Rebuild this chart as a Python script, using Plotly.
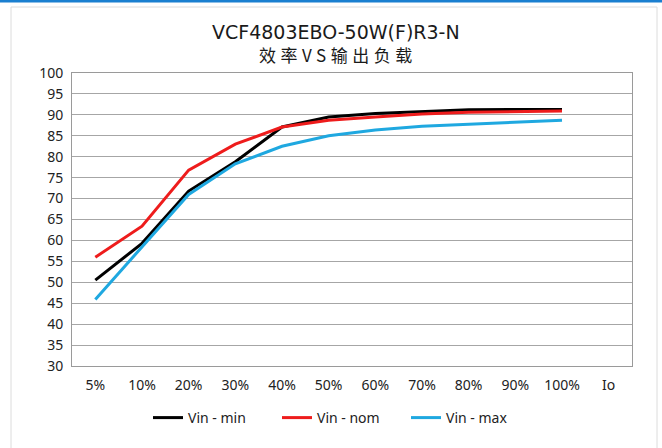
import plotly.graph_objects as go

categories = ["5%", "10%", "20%", "30%", "40%", "50%", "60%", "70%", "80%", "90%", "100%", "Io"]
vin_min = [50.5, 59.3, 71.8, 78.8, 87.1, 89.5, 90.3, 90.8, 91.2, 91.3, 91.3]
vin_nom = [56.0, 63.4, 76.8, 83.0, 87.1, 88.7, 89.5, 90.2, 90.6, 90.7, 90.9]
vin_max = [45.9, 58.4, 71.0, 78.3, 82.5, 85.0, 86.4, 87.3, 87.8, 88.2, 88.7]
series_names = ["Vin - min", "Vin - nom", "Vin - max"]
series_colors = ["#000000", "#ee1c1c", "#1fa8e0"]
title_lines = ["VCF4803EBO-50W(F)R3-N", "效率VS输出负载"]

font_tick = "Noto Sans, sans-serif"
font_title = "DejaVu Sans, sans-serif"
font_cjk = "Noto Sans CJK SC, sans-serif"

W, H = 662, 448
L, R, T, B = 72, 30, 73, 82
PW, PH = W - L - R, H - T - B

def px_x(x):
    return (x - L) / PW

def px_y(y):
    return (T + PH - y) / PH

fig = go.Figure()
for name, vals, col in zip(series_names, [vin_min, vin_nom, vin_max], series_colors):
    fig.add_trace(go.Scatter(
        x=categories[:len(vals)], y=vals, mode="lines", name=name,
        line=dict(color=col, width=3),
    ))

fig.update_layout(
    width=W, height=H,
    paper_bgcolor="white", plot_bgcolor="white",
    margin=dict(l=L, r=R, t=T, b=B, autoexpand=False),
    xaxis=dict(
        type="category", categoryorder="array", categoryarray=categories,
        range=[-0.5, len(categories) - 0.5],
        showgrid=False, showline=True, linecolor="#9a9a9a", linewidth=1, mirror=True,
        ticks="", ticklabelstandoff=6,
        tickfont=dict(family=font_tick, size=14, color="#222222"),
        automargin=False,
    ),
    yaxis=dict(
        range=[30, 100], dtick=5, tick0=30,
        showgrid=True, gridcolor="#a6a6a6", gridwidth=1,
        showline=True, linecolor="#9a9a9a", linewidth=1, mirror=True,
        ticks="", zeroline=False, ticklabelstandoff=5,
        tickfont=dict(family=font_tick, size=14, color="#222222"),
        automargin=False,
    ),
    legend=dict(
        orientation="h", x=px_x(148), xanchor="left",
        y=px_y(418), yanchor="middle",
        font=dict(family=font_tick, size=14, color="#222222"),
        entrywidth=84, entrywidthmode="pixels", itemwidth=30,
    ),
    showlegend=True,
)

# two-line title as annotations
fig.add_annotation(text=title_lines[0], xref="paper", yref="paper",
                   x=px_x(336), y=px_y(32), showarrow=False,
                   xanchor="center", yanchor="middle",
                   font=dict(family=font_title, size=19, color="#1a1a1a"))
fig.add_annotation(text='<span style="letter-spacing:4.5px">' + title_lines[1] + '</span>',
                   xref="paper", yref="paper",
                   x=px_x(338), y=px_y(55), showarrow=False,
                   xanchor="center", yanchor="middle",
                   font=dict(family=font_cjk, size=17, color="#1a1a1a"))

# decorative frame: blue top strip and light gray outer border
fig.add_shape(type="line", xref="paper", yref="paper",
              x0=px_x(0), x1=px_x(W), y0=px_y(1), y1=px_y(1),
              line=dict(color="#1a7fd0", width=3))
fig.add_shape(type="rect", xref="paper", yref="paper",
              x0=px_x(11), x1=px_x(657), y0=px_y(470), y1=px_y(7),
              line=dict(color="#dcdcdc", width=1), layer="below")

fig.write_html("out.html", config={"displayModeBar": False},
               post_script="document.body.style.margin='0';")
